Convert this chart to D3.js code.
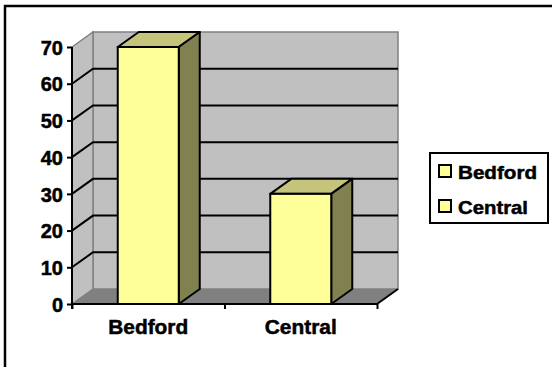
<!DOCTYPE html>
<html>
<head>
<meta charset="utf-8">
<script src="https://cdn.jsdelivr.net/npm/d3@7"></script>
<style>
  html, body { margin: 0; padding: 0; background: #fff; }
  svg { display: block; }
  text { font-family: "Liberation Sans", Arial, sans-serif; font-weight: bold; fill: #000; stroke: #000; stroke-width: 0.5px; }
</style>
</head>
<body>
<svg id="chart" width="552" height="367"></svg>
<script>
// Chart data
const categories = ["Bedford", "Central"];
const values = [70, 30];
const yTicks = [0, 10, 20, 30, 40, 50, 60, 70];
const legendLabels = ["Bedford", "Central"];

const svg = d3.select("#chart");

// Frame around the chart area
svg.append("rect")
  .attr("x", 5).attr("y", 6)
  .attr("width", 560).attr("height", 380)
  .attr("fill", "#fff").attr("stroke", "#000").attr("stroke-width", 2.5);

// Plot geometry (front plane + depth offset)
const x0 = 72, x1 = 377;
const yBottom = 304, yTop = 47;
const dx = 21, dy = -15;

const x = d3.scaleBand().domain(categories).range([x0, x1]);
const y = d3.scaleLinear().domain([0, 70]).range([yBottom, yTop]);

const pts = p => p.map(d => d.join(",")).join(" ");

// Back wall
svg.append("polygon")
  .attr("points", pts([[x0 + dx, y(70) + dy], [x1 + dx, y(70) + dy], [x1 + dx, y(0) + dy], [x0 + dx, y(0) + dy]]))
  .attr("fill", "#c0c0c0").attr("stroke", "#808080").attr("stroke-width", 1.5);

// Left wall
svg.append("polygon")
  .attr("points", pts([[x0, y(70)], [x0 + dx, y(70) + dy], [x0 + dx, y(0) + dy], [x0, y(0)]]))
  .attr("fill", "#c0c0c0").attr("stroke", "#808080").attr("stroke-width", 1.5);

// Floor
svg.append("polygon")
  .attr("points", pts([[x0, y(0)], [x0 + dx, y(0) + dy], [x1 + dx, y(0) + dy], [x1, y(0)]]))
  .attr("fill", "#808080").attr("stroke", "none");
svg.append("line")
  .attr("x1", x1).attr("y1", y(0)).attr("x2", x1 + dx).attr("y2", y(0) + dy)
  .attr("stroke", "#000").attr("stroke-width", 2);

// Gridlines: diagonal across the left wall, then along the back wall
const grid = yTicks.filter(t => t > 0 && t < 70);
svg.append("g").selectAll("path").data(grid).join("path")
  .attr("d", t => `M${x0},${y(t)} L${x0 + dx},${y(t) + dy} L${x1 + dx},${y(t) + dy}`)
  .attr("fill", "none").attr("stroke", "#000").attr("stroke-width", 2);

// Bars drawn as boxes: front, top and side faces
const barW = x.bandwidth() * 0.4;
const bars = svg.append("g").selectAll("g").data(categories.map((c, i) => ({ c, v: values[i] }))).join("g");
bars.each(function (d) {
  const g = d3.select(this);
  const bx = x(d.c) + (x.bandwidth() - barW) / 2;
  const by = y(d.v), b0 = y(0);
  g.append("polygon")
    .attr("points", pts([[bx, by], [bx + dx, by + dy], [bx + barW + dx, by + dy], [bx + barW, by]]))
    .attr("fill", "#c4c47a").attr("stroke", "#000").attr("stroke-width", 2).attr("stroke-linejoin", "round");
  g.append("polygon")
    .attr("points", pts([[bx + barW, by], [bx + barW + dx, by + dy], [bx + barW + dx, b0 + dy], [bx + barW, b0]]))
    .attr("fill", "#808050").attr("stroke", "#000").attr("stroke-width", 2).attr("stroke-linejoin", "round");
  g.append("rect")
    .attr("x", bx).attr("y", by).attr("width", barW).attr("height", b0 - by)
    .attr("fill", "#ffff99").attr("stroke", "#000").attr("stroke-width", 2);
});

// Y axis
const yAxis = d3.axisLeft(y).tickValues(yTicks).tickSize(5).tickPadding(4);
const gy = svg.append("g").attr("transform", `translate(${x0},0)`).call(yAxis);
gy.select(".domain").attr("stroke", "#000").attr("stroke-width", 2).attr("d", `M0,${y(70)}V${y(0) + 5}`);
gy.selectAll(".tick line").attr("stroke", "#000").attr("stroke-width", 2);
gy.selectAll(".tick text").attr("font-size", 20).attr("font-family", null).attr("dy", "0.36em");

// X axis
const xAxis = d3.axisBottom(d3.scaleLinear().domain([0, 2]).range([x0, x1]))
  .tickValues([0, 1, 2]).tickSize(5).tickFormat("");
const gx = svg.append("g").attr("transform", `translate(0,${y(0)})`).call(xAxis);
gx.select(".domain").attr("stroke", "#000").attr("stroke-width", 2).attr("d", `M${x0},0H${x1}`);
gx.selectAll(".tick line").attr("stroke", "#000").attr("stroke-width", 2);

const catWidths = { Bedford: 80, Central: 72 };
svg.append("g").selectAll("text").data(categories).join("text")
  .attr("x", c => x(c) + x.bandwidth() / 2)
  .attr("y", 334)
  .attr("text-anchor", "middle")
  .attr("font-size", 20)
  .attr("textLength", c => catWidths[c])
  .attr("lengthAdjust", "spacingAndGlyphs")
  .text(c => c);

// Legend
const legWidths = { Bedford: 79, Central: 70 };
const lg = svg.append("g");
lg.append("rect").attr("x", 430).attr("y", 153).attr("width", 118).attr("height", 70)
  .attr("fill", "#fff").attr("stroke", "#000").attr("stroke-width", 2);
const items = lg.selectAll("g").data(legendLabels).join("g")
  .attr("transform", (d, i) => `translate(0,${i * 35})`);
items.append("rect").attr("x", 439).attr("y", 165).attr("width", 12).attr("height", 12)
  .attr("fill", "#ffff99").attr("stroke", "#000").attr("stroke-width", 2);
items.append("text").attr("x", 458).attr("y", 178.5).attr("font-size", 19)
  .attr("textLength", d => legWidths[d])
  .attr("lengthAdjust", "spacingAndGlyphs")
  .text(d => d);
</script>
</body>
</html>
